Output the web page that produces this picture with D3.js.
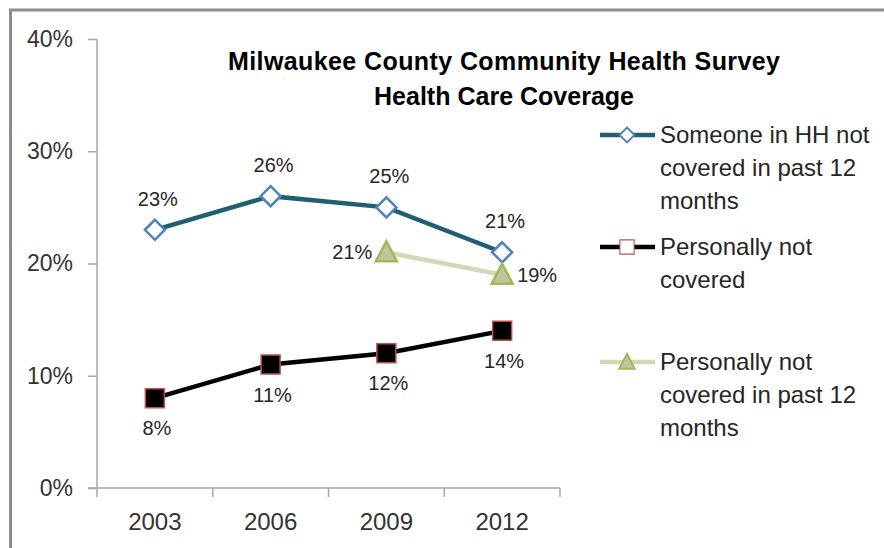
<!DOCTYPE html>
<html>
<head>
<meta charset="utf-8">
<script src="https://cdn.jsdelivr.net/npm/d3@7"></script>
<style>
  body { margin: 0; background: #fff; }
  text { font-family: "Liberation Sans", Arial, sans-serif; fill: #262626; }
</style>
</head>
<body>
<svg id="chart" width="884" height="548"></svg>
<script>
// chart data
let years = ["2003", "2006", "2009", "2012"];
let hhNotCovered = [23, 26, 25, 21];
let personallyNotCovered = [8, 11, 12, 14];
let personally12 = [null, null, 21, 19];
let yTicks = [0, 10, 20, 30, 40];

let chart = d3.select("#chart");

// outer frame (runs off the right and bottom edges)
chart.append("rect")
    .attr("x", 10.5)
    .attr("y", 10)
    .attr("width", 900)
    .attr("height", 600)
    .style("fill", "none")
    .style("stroke", "#8c8c8c")
    .style("stroke-width", 3);

let marginLeft = 97, marginTop = 39, width = 463, height = 449;
let g = chart.append("g").attr("transform", "translate(" + marginLeft + "," + marginTop + ")");

let x = d3.scaleBand().range([0, width]).domain(years);
let y = d3.scaleLinear().range([height, 0]).domain([0, 40]);
let cx = function(i) { return x(years[i]) + x.bandwidth() / 2; };

// y axis
let yAxis = g.append("g")
    .call(d3.axisLeft(y).tickValues(yTicks).tickSize(9).tickPadding(15)
        .tickFormat(function(d) { return d + "%"; }));
yAxis.select(".domain").attr("d", "M0," + height + "V0").style("stroke", "#a6a6a6").style("stroke-width", 1.5);
yAxis.selectAll(".tick line").style("stroke", "#a6a6a6").style("stroke-width", 1.5);
yAxis.selectAll(".tick text").style("font-size", "23px").style("fill", "#333");

// x axis with ticks between categories
let xAxis = g.append("g").attr("transform", "translate(0," + height + ")");
xAxis.append("line").attr("x1", -9).attr("x2", width)
    .style("stroke", "#a6a6a6").style("stroke-width", 1.5);
xAxis.selectAll("line.tk")
    .data(d3.range(years.length + 1))
    .enter()
    .append("line")
    .attr("class", "tk")
    .attr("x1", function(d) { return d * x.bandwidth(); })
    .attr("x2", function(d) { return d * x.bandwidth(); })
    .attr("y1", 0).attr("y2", 9)
    .style("stroke", "#a6a6a6").style("stroke-width", 1.5);
xAxis.selectAll("text")
    .data(years)
    .enter()
    .append("text")
    .attr("x", function(d, i) { return cx(i); })
    .attr("y", 42)
    .attr("text-anchor", "middle")
    .style("font-size", "24px")
    .style("fill", "#333")
    .text(function(d) { return d; });

// title
let title = g.append("text")
    .attr("text-anchor", "middle")
    .style("font-size", "25px")
    .style("font-weight", "bold")
    .style("fill", "#000");
title.append("tspan").attr("x", 407).attr("y", 31)
    .attr("textLength", 552).attr("lengthAdjust", "spacing")
    .text("Milwaukee County Community Health Survey");
title.append("tspan").attr("x", 407).attr("y", 66)
    .attr("textLength", 260).attr("lengthAdjust", "spacing")
    .text("Health Care Coverage");

let line = d3.line()
    .defined(function(d) { return d != null; })
    .x(function(d, i) { return cx(i); })
    .y(function(d) { return y(d); });

function diamond(sel) {
    sel.attr("d", "M0,-10L10,0L0,10L-10,0Z")
       .style("fill", "#fff").style("stroke", "#4f81bd").style("stroke-width", 2.5);
}
function square(sel) {
    sel.attr("d", "M-9.5,-9.5H9.5V9.5H-9.5Z")
       .style("fill", "#000").style("stroke", "#c0504d").style("stroke-width", 1.5);
}
function triangle(sel) {
    sel.attr("d", "M0,-11L10.5,9H-10.5Z")
       .style("fill", "#c4c39b").style("stroke", "#9bbb59").style("stroke-width", 2.5);
}

// series 3 (light) behind
g.append("path").datum(personally12).attr("d", line)
    .style("fill", "none").style("stroke", "#d6d5b5").style("stroke-width", 4.5);
// series 1
g.append("path").datum(hhNotCovered).attr("d", line)
    .style("fill", "none").style("stroke", "#215f70").style("stroke-width", 4.5);
// series 2
g.append("path").datum(personallyNotCovered).attr("d", line)
    .style("fill", "none").style("stroke", "#000").style("stroke-width", 4.5);

g.selectAll("path.m1").data(hhNotCovered).enter().append("path").attr("class", "m1")
    .attr("transform", function(d, i) { return "translate(" + cx(i) + "," + y(d) + ")"; })
    .call(diamond);
g.selectAll("path.m2").data(personallyNotCovered).enter().append("path").attr("class", "m2")
    .attr("transform", function(d, i) { return "translate(" + cx(i) + "," + y(d) + ")"; })
    .call(square);
g.selectAll("path.m3").data(personally12).enter().append("path").attr("class", "m3")
    .filter(function(d) { return d != null; })
    .attr("transform", function(d, i) { return "translate(" + cx(i + 2) + "," + y(d) + ")"; })
    .call(triangle);

// data labels
let labelStyle = function(sel) { sel.style("font-size", "20px").style("fill", "#262626"); };
g.selectAll("text.l1").data(hhNotCovered).enter().append("text").attr("class", "l1")
    .attr("x", function(d, i) { return cx(i) + 3; })
    .attr("y", function(d) { return y(d) - 24; })
    .attr("text-anchor", "middle")
    .text(function(d) { return d + "%"; })
    .call(labelStyle);
g.selectAll("text.l2").data(personallyNotCovered).enter().append("text").attr("class", "l2")
    .attr("x", function(d, i) { return cx(i) + 2; })
    .attr("y", function(d) { return y(d) + 37; })
    .attr("text-anchor", "middle")
    .text(function(d) { return d + "%"; })
    .call(labelStyle);
personally12.forEach(function(d, i) {
    if (d == null) return;
    g.append("text")
        .attr("x", i == 2 ? cx(i) - 14 : cx(i) + 15)
        .attr("y", y(d) + 7)
        .attr("text-anchor", i == 2 ? "end" : "start")
        .text(d + "%")
        .call(labelStyle);
});

// legend
let legendItems = [
    { lines: ["Someone in HH not", "covered in past 12", "months"], y: 135, color: "#215f70", marker: diamond },
    { lines: ["Personally not", "covered"], y: 247, color: "#000", marker: square },
    { lines: ["Personally not", "covered in past 12", "months"], y: 362, color: "#d6d5b5", marker: triangle }
];
let legend = chart.append("g");
legendItems.forEach(function(item) {
    let lg = legend.append("g").attr("transform", "translate(600," + item.y + ")");
    lg.append("line").attr("x1", 0).attr("x2", 55)
        .style("stroke", item.color).style("stroke-width", 4.5);
    let mk = lg.append("path").attr("transform", "translate(27,0) scale(0.75)").call(item.marker);
    if (item.marker === square) mk.style("fill", "#fff");
    let t = lg.append("text").attr("x", 60).style("font-size", "24px").style("fill", "#262626");
    item.lines.forEach(function(s, k) {
        t.append("tspan").attr("x", 60).attr("y", 8 + k * 33).text(s);
    });
});
</script>
</body>
</html>
